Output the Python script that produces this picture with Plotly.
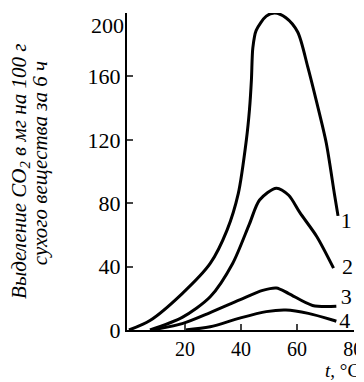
import plotly.graph_objects as go

# temperature (°C) and CO2 release
t1 = [0, 7.5, 19, 29, 35, 39, 41.9, 43, 43.7, 44.2, 45.4, 49, 52, 56, 60.2, 63.8, 66.8, 70.4, 73.3, 74.6]
co2_1 = [0, 6, 23, 42, 63, 86, 120, 139, 158, 178, 189, 198, 200, 197, 188, 166, 145, 118, 86, 72]

t2 = [7.5, 19, 29, 37, 43, 46.6, 52.6, 57, 61, 67, 73]
co2_2 = [0, 8, 21, 42, 67, 82, 89.5, 85, 74, 59, 39]

t3 = [8, 19, 29, 39.5, 47.7, 52.6, 57, 65.5, 74]
co2_3 = [0, 4, 11, 19, 25, 26.5, 23, 15.5, 15]

t4 = [20, 29, 39.5, 49, 56, 64, 72.6, 74]
co2_4 = [0, 2, 7.5, 11.6, 12.6, 10.5, 6.3, 5.5]

curve_labels = ['1', '2', '3', '4']
label_x = [77.5, 78, 77.5, 77]
label_y = [68, 39, 20, 5]

x_ticks = [20, 40, 60, 80]
y_ticks = [0, 40, 80, 120, 160, 200]

serif = 'Liberation Serif'

fig = go.Figure()
for tx, cy in [(t1, co2_1), (t2, co2_2), (t3, co2_3), (t4, co2_4)]:
    fig.add_trace(go.Scatter(x=tx, y=cy, mode='lines', cliponaxis=False,
                             line=dict(color='black', width=3, shape='spline', smoothing=0.8)))

fig.add_trace(go.Scatter(x=label_x, y=label_y, mode='text', text=curve_labels, cliponaxis=False,
                         textfont=dict(family=serif, size=22, color='black')))

# top y label sits below its tick in the original, so it is placed by hand
y_ticktext = [str(v) for v in y_ticks[:-1]] + ['']
fig.add_annotation(text=str(y_ticks[-1]), xref='paper', yref='y', x=0, y=y_ticks[-1],
                   xanchor='right', yanchor='top', xshift=-1, yshift=2, showarrow=False,
                   font=dict(family=serif, size=22, color='black'))

# y title as two separate lines (tight line spacing like the original)
fig.add_annotation(text='<i>Выделение CO<sub>2</sub> в мг на 100 г</i>',
                   xref='paper', yref='paper', x=-0.474, y=0.5, textangle=-90,
                   xanchor='center', yanchor='middle',
                   showarrow=False, font=dict(family=serif, size=21, color='black'))
fig.add_annotation(text='<i>сухого вещества за 6 ч</i>',
                   xref='paper', yref='paper', x=-0.385, y=0.525, textangle=-90,
                   xanchor='center', yanchor='middle',
                   showarrow=False, font=dict(family=serif, size=21, color='black'))
fig.add_annotation(text='<i>t</i>, °C', xref='paper', yref='paper', x=1.03, y=-0.164,
                   xanchor='right', yanchor='bottom', showarrow=False, borderpad=0,
                   font=dict(family=serif, size=19, color='black'))

fig.update_xaxes(range=[-0.7, 80.3], tickvals=x_ticks, ticks='inside', ticklen=6, tickwidth=2,
                 showline=True, linewidth=2, linecolor='black', showgrid=False, zeroline=False,
                 automargin=False, ticklabeloverflow='allow',
                 tickfont=dict(family=serif, size=20, color='black'))
fig.update_yaxes(range=[0, 200], tickvals=y_ticks, ticktext=y_ticktext, ticks='inside',
                 ticklen=6, tickwidth=2,
                 showline=True, linewidth=2, linecolor='black', showgrid=False, zeroline=False,
                 automargin=False, ticklabeloverflow='allow',
                 tickfont=dict(family=serif, size=22, color='black'))

fig.update_layout(width=356, height=374, margin=dict(l=119, r=10, t=5, b=52),
                  plot_bgcolor='white', paper_bgcolor='white', showlegend=False)

fig.write_html("out.html")
